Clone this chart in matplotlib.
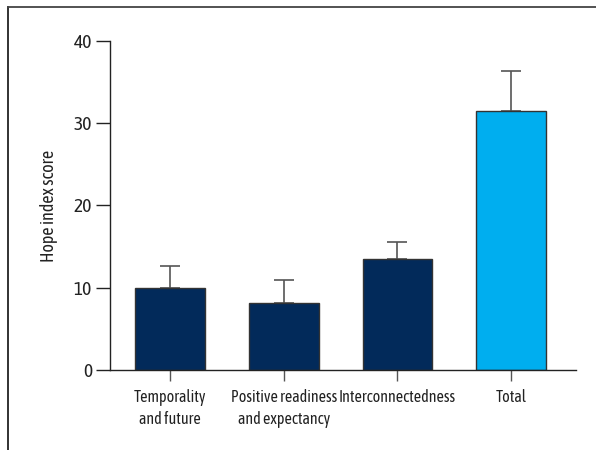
import numpy as np
import matplotlib
matplotlib.use('Agg')
import matplotlib.pyplot as plt
from matplotlib.lines import Line2D

# hope index subscale means and SDs
categories = ['Temporality\nand future', 'Positive readiness\nand expectancy',
              'Interconnectedness', 'Total']
means = [10.0, 8.2, 13.5, 31.5]
sds = [2.7, 2.7, 2.05, 4.8]
colors = ['#022a5a', '#022a5a', '#022a5a', '#00aeef']

plt.rcParams['font.family'] = ['Asap Condensed', 'DejaVu Sans']

fig = plt.figure(figsize=(5.96, 4.5), dpi=100)
ax = fig.add_axes([110/596, 1-370/450, (576-110)/596, (370-41)/450])

x = np.arange(len(categories))
ax.bar(x, means, width=0.615, color=colors, edgecolor='#333333', linewidth=1.0, zorder=2)
ax.errorbar(x, means, yerr=[np.zeros(len(sds)), sds], fmt='none', ecolor='#555555',
            elinewidth=1.2, capsize=7, capthick=1.2, zorder=1)

ax.set_xlim(-0.528, 3.57)
ax.set_ylim(0, 40)
ax.set_yticks([0, 10, 20, 30, 40])
ax.set_xticks(x)
ax.set_xticklabels(categories, fontsize=11.5, color='#222222', linespacing=1.4)
ax.tick_params(axis='y', labelsize=14, length=10, width=1.0, colors='#222222', pad=3)
ax.tick_params(axis='x', length=8, width=1.0, color='#555555', pad=5.5)
for s in ['top', 'right']:
    ax.spines[s].set_visible(False)
for s in ['left', 'bottom']:
    ax.spines[s].set_color('#222222')
    ax.spines[s].set_linewidth(1.0)
ax.set_ylabel('Hope index score', fontsize=13, color='#222222', labelpad=11)

# outer frame (top and left edges)
fig.add_artist(Line2D([8/596, 8/596], [0, 1-7/450], color='#222222', lw=1.3))
fig.add_artist(Line2D([8/596, 1], [1-7/450, 1-7/450], color='#444444', lw=1.3))

fig.savefig('out.png', dpi=100)
